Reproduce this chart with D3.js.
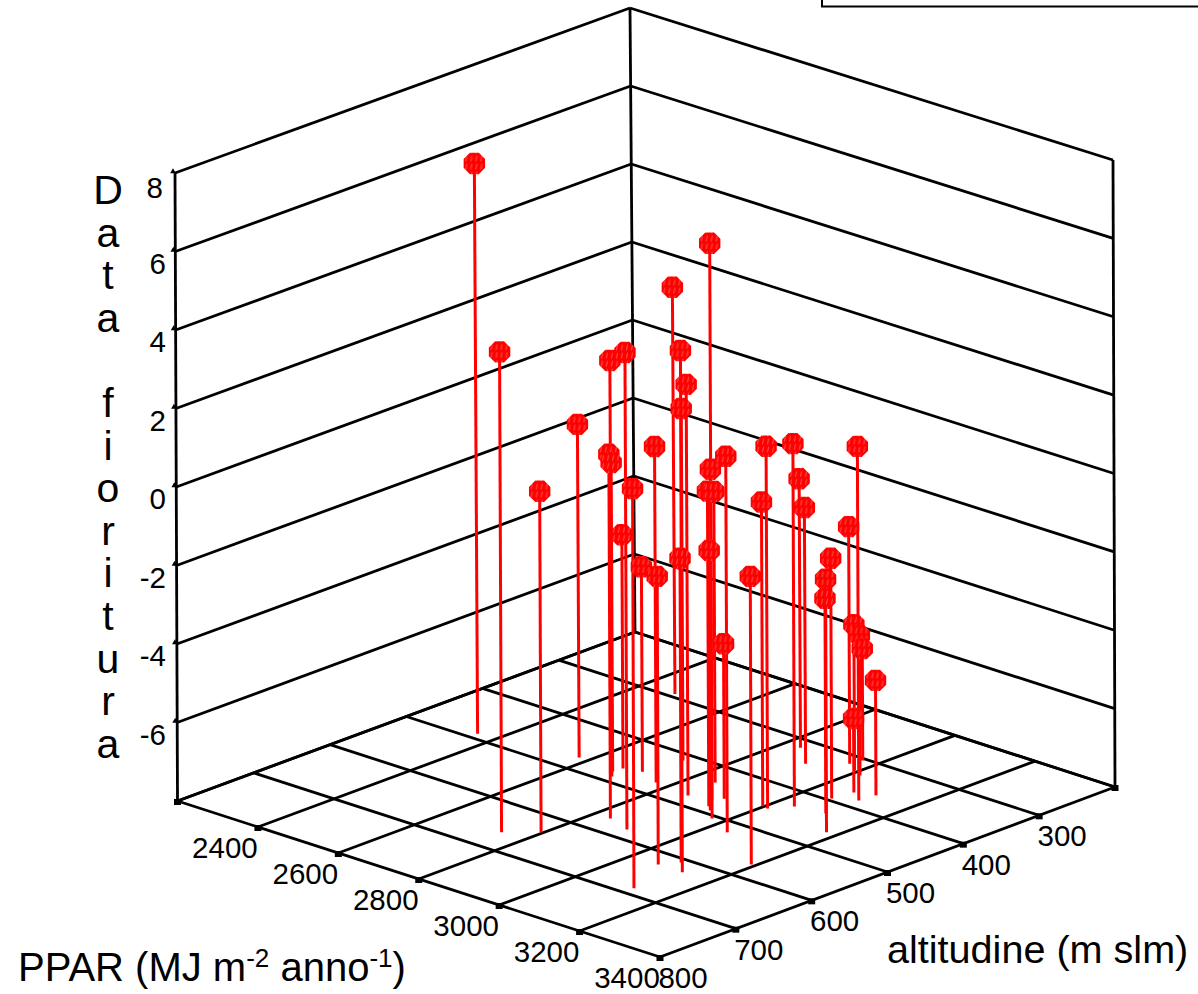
<!DOCTYPE html>
<html>
<head>
<meta charset="utf-8">
<script src="https://cdnjs.cloudflare.com/ajax/libs/d3/7.8.5/d3.min.js"></script>
<style>
  html, body { margin: 0; padding: 0; background: #fff; }
  svg { display: block; }
  text { font-family: "Liberation Sans", Arial, sans-serif; fill: #000; }
</style>
</head>
<body>
<div id="chart-area"></div>
<script>
// values
const ppar = [2357, 2743, 2796, 2578, 2690, 2838, 2673, 2900, 2676, 3120, 2713, 3067, 2770, 2477,
  3127, 2727, 3090, 2859, 2974, 2909, 2926, 2849, 2943, 3044, 2919, 3191, 2998, 3012, 3041, 2838,
  2902, 3176, 3108, 3062, 2961, 3105, 2992, 3017, 2967, 3110, 3070];
const altitudine = [489, 661, 637, 472, 488, 568, 478, 579, 466, 686, 460, 626, 472, 293,
  626, 414, 608, 477, 506, 472, 485, 436, 492, 523, 461, 569, 452, 453, 433, 318,
  345, 462, 427, 395, 318, 382, 328, 334, 304, 362, 370];
const fioritura = [6.58, 4.28, 0.72, 0.52, 2.64, 1.31, -0.10, 4.2, -2.02, 2.23, -2.76, -0.63, 0.59, 2.41,
  5.35, 1.0, -0.22, 2.51, 6.71, 0.47, 0.06, -0.56, -1.35, 1.62, -4.04, -0.63, -0.22, 1.26, 1.28, -1.12,
  -1.45, -1.53, -2.5, -1.86, -1.94, 1.05, -4.27, -4.42, -5.14, -5.06, -6.11];

const pparTicks = [2200, 2400, 2600, 2800, 3000, 3200, 3400];
const altTicks = [800, 700, 600, 500, 400, 300, 200];
const zTicks = [-8, -6, -4, -2, 0, 2, 4, 6, 8];
const zLetters = ["D", "a", "t", "a", " ", "f", "i", "o", "r", "i", "t", "u", "r", "a"];

const width = 1198, height = 994;

const u = d3.scaleLinear().domain([2200, 3400]).range([0, 1]);
const v = d3.scaleLinear().domain([800, 200]).range([0, 1]);
const w = d3.scaleLinear().domain([-8, 8]).range([0, 1]);

// box corners on screen, [u][v]
const floor = [[[177.5, 801], [635, 632]], [[660, 957], [1115, 787]]];
const roof = [[[175, 173], [630, 8]], [[658, 333], [1113, 160]]];

const bilerp = (c, a, b, i) =>
  c[0][0][i] * (1 - a) * (1 - b) + c[1][0][i] * a * (1 - b) + c[0][1][i] * (1 - a) * b + c[1][1][i] * a * b;

const project = (p, al, z) => {
  const a = u(p), b = v(al), t = w(z);
  return [0, 1].map(i => bilerp(floor, a, b, i) * (1 - t) + bilerp(roof, a, b, i) * t);
};

const svg = d3.select("#chart-area")
  .append("svg")
    .attr("width", width)
    .attr("height", height);

const defs = svg.append("defs");
const hatch = defs.append("pattern")
  .attr("id", "hatch")
  .attr("patternUnits", "userSpaceOnUse")
  .attr("width", 5)
  .attr("height", 8);
hatch.append("rect").attr("width", 5).attr("height", 8).attr("fill", "#ff0000");
hatch.append("line")
  .attr("x1", 2.5).attr("y1", 0.5).attr("x2", 1.5).attr("y2", 6)
  .attr("stroke", "#ff6a6a").attr("stroke-width", 0.8);

// clipped legend box at the top
svg.append("rect")
  .attr("x", 822).attr("y", -20)
  .attr("width", 420).attr("height", 26.5)
  .attr("fill", "none").attr("stroke", "#000").attr("stroke-width", 2);

const grid = svg.append("g")
  .attr("fill", "none")
  .attr("stroke", "#000")
  .attr("stroke-width", 2.8);

const seg = (a, b) => grid.append("path").attr("d", d3.line()([a, b]));

// walls
zTicks.forEach(z => {
  seg(project(2200, 800, z), project(2200, 200, z));
  seg(project(2200, 200, z), project(3400, 200, z));
});
seg(project(2200, 800, -8), project(2200, 800, 8));
seg(project(2200, 200, -8), project(2200, 200, 8));
seg(project(3400, 200, -8), project(3400, 200, 8));

// floor
pparTicks.forEach(p => seg(project(p, 800, -8), project(p, 200, -8)));
altTicks.forEach(a => seg(project(2200, a, -8), project(3400, a, -8)));

// tick marks
const tickMarks = svg.append("g").attr("fill", "#000");
pparTicks.forEach(p => {
  const c = project(p, 800, -8);
  tickMarks.append("rect").attr("x", c[0] - 3.5).attr("y", c[1] - 2).attr("width", 7).attr("height", 6);
});
altTicks.slice(1).forEach(a => {
  const c = project(3400, a, -8);
  tickMarks.append("rect").attr("x", c[0] - 3.5).attr("y", c[1] - 2).attr("width", 7).attr("height", 6);
});
zTicks.slice(1).forEach(z => {
  const c = project(2200, 800, z);
  tickMarks.append("path")
    .attr("d", d3.symbol(d3.symbolTriangle, 14)())
    .attr("transform", "translate(" + (c[0] - 2) + "," + (c[1] - 1.5) + ")");
});

// tick labels
const labels = svg.append("g").attr("font-size", "29.5px");
pparTicks.slice(1).forEach(p => {
  const c = project(p, 800, -8);
  labels.append("text")
    .attr("x", c[0] - 33).attr("y", c[1] + 31)
    .attr("text-anchor", "middle")
    .text(p);
});
altTicks.slice(0, -1).forEach(a => {
  const c = project(3400, a, -8);
  labels.append("text")
    .attr("x", c[0] + 23).attr("y", c[1] + 31)
    .attr("text-anchor", "middle")
    .text(a);
});
zTicks.slice(1).forEach(z => {
  const c = project(2200, 800, z);
  labels.append("text")
    .attr("x", z === 8 ? 163 : 166).attr("y", c[1] + (z === 8 ? 25 : 22))
    .attr("text-anchor", "end")
    .text(z);
});

// stems and markers
const points = ppar.map((p, i) => ({
  top: project(p, altitudine[i], fioritura[i]),
  base: project(p, altitudine[i], -8)
}));

svg.append("g")
  .selectAll("line")
  .data(points)
  .join("line")
    .attr("x1", d => d.top[0]).attr("y1", d => d.top[1])
    .attr("x2", d => d.base[0]).attr("y2", d => d.base[1])
    .attr("stroke", "#ff0000")
    .attr("stroke-width", 3);

const octagon = d3.lineRadial().curve(d3.curveLinearClosed)(
  d3.range(8).map(i => [Math.PI / 8 + i * Math.PI / 4, 11.6])
);

svg.append("g")
  .selectAll("path")
  .data(points)
  .join("path")
    .attr("d", octagon)
    .attr("transform", d => "translate(" + d.top[0] + "," + d.top[1] + ")")
    .attr("fill", "url(#hatch)");

// axis titles
svg.append("g")
  .attr("font-size", "41px")
  .attr("text-anchor", "middle")
  .selectAll("text")
  .data(zLetters)
  .join("text")
    .attr("x", 108)
    .attr("y", (d, i) => 204 + i * 42.6)
    .text(d => d);

const pparTitle = svg.append("text")
  .attr("x", 18).attr("y", 981)
  .attr("font-size", "40px");
pparTitle.append("tspan").text("PPAR (MJ m");
pparTitle.append("tspan").attr("font-size", "26px").attr("dy", -14).text("-2");
pparTitle.append("tspan").attr("dy", 14).text(" anno");
pparTitle.append("tspan").attr("font-size", "26px").attr("dy", -14).text("-1");
pparTitle.append("tspan").attr("dy", 14).text(")");

svg.append("text")
  .attr("x", 887).attr("y", 963)
  .attr("font-size", "39.6px")
  .text("altitudine (m slm)");
</script>
</body>
</html>
